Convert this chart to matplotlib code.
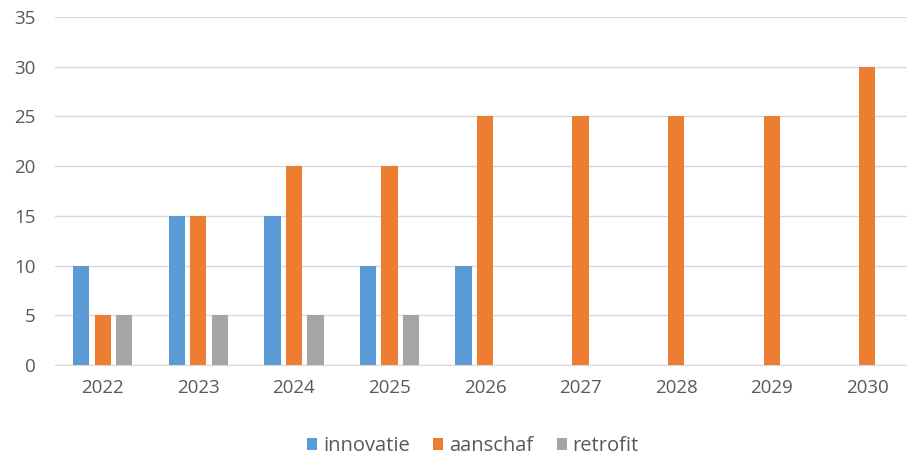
import matplotlib.pyplot as plt
import numpy as np

plt.rcParams['font.family'] = ['Open Sans', 'DejaVu Sans']

years = ['2022', '2023', '2024', '2025', '2026', '2027', '2028', '2029', '2030']
innovatie = [10, 15, 15, 10, 10, 0, 0, 0, 0]
aanschaf = [5, 15, 20, 20, 25, 25, 25, 25, 30]
retrofit = [5, 5, 5, 5, 0, 0, 0, 0, 0]

blue = '#5B9BD5'
orange = '#ED7D31'
grey = '#A5A5A5'
txt = '#595959'

fig = plt.figure(figsize=(9.07, 4.58), dpi=100)
ax = fig.add_axes([55 / 907, 93 / 458, 860 / 907, 348 / 458])

x = np.arange(len(years))
w = 0.17
off = 0.225
ax.bar(x - off, innovatie, w, color=blue, label='innovatie', zorder=3)
ax.bar(x, aanschaf, w, color=orange, label='aanschaf', zorder=3)
ax.bar(x + off, retrofit, w, color=grey, label='retrofit', zorder=3)

ax.set_xlim(-0.5, 8.5)
ax.set_ylim(0, 35)
ax.set_yticks(range(0, 36, 5))
ax.set_xticks(x)
ax.set_xticklabels(years)
ax.grid(axis='y', color='#D9D9D9', linewidth=1, zorder=0)
for s in ['top', 'right', 'left']:
    ax.spines[s].set_visible(False)
ax.spines['bottom'].set_color('#D9D9D9')
ax.tick_params(length=0, colors=txt, labelsize=13.5)
ax.tick_params(axis='x', pad=10)
ax.tick_params(axis='y', pad=14)

fig.legend(loc='center', bbox_to_anchor=(473 / 907, 1 - 446 / 458), ncol=3,
           frameon=False, fontsize=14.5, labelcolor=txt, handlelength=0.5,
           handleheight=0.5, handletextpad=0.3, columnspacing=1.15)

fig.savefig('out.png', dpi=100)
